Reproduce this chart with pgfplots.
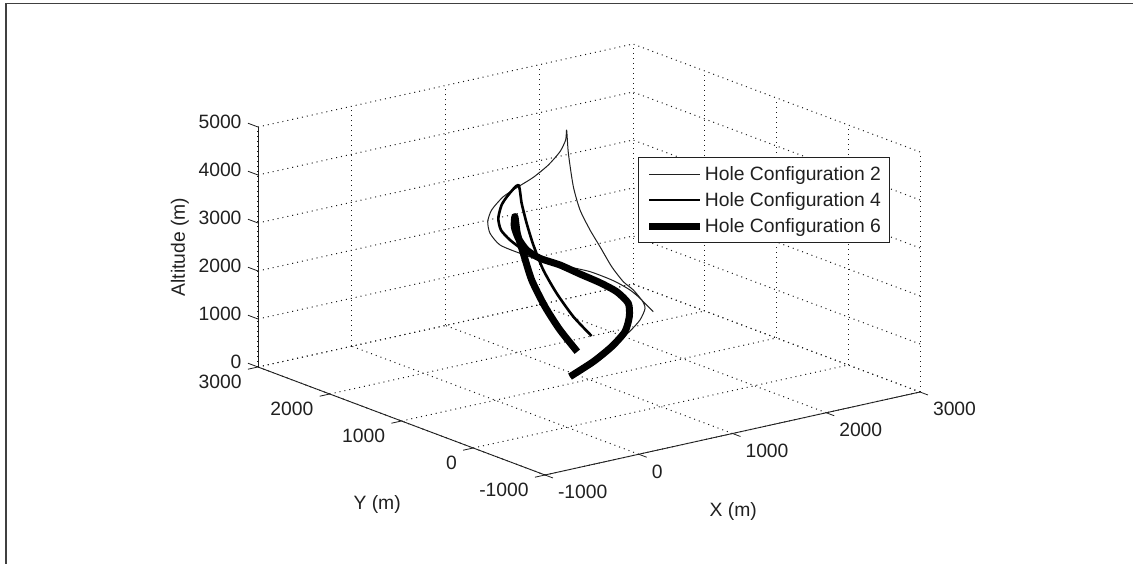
\documentclass[border=0pt]{standalone}
\usepackage{pgfplots}
\pgfplotsset{compat=1.18}
\usepackage{fontspec}
\setmainfont{Liberation Sans}
\definecolor{ink}{HTML}{202020}
\begin{document}
\begin{tikzpicture}[x=1pt,y=1pt]
\path[use as bounding box] (0,0) rectangle (1133,564);
\draw[black!75,line width=1.8pt] (5.8,0) -- (5.8,560.5) -- (1133,560.5);
\begin{axis}[
  at={(567pt,136.75pt)},anchor=origin,
  x={(0.09375pt,0.02075pt)},y={(-0.07175pt,0.027pt)},z={(0pt,0.048pt)},
  xmin=-1000,xmax=3000,ymin=-1000,ymax=3000,zmin=0,zmax=5000,
  xtick={-1000,0,...,3000},ytick={-1000,0,...,3000},ztick={0,1000,...,5000},
  scaled ticks=false,clip=false,
  axis lines*=left,
  axis line style={-,ink,line width=0.9pt},
  grid=major,
  major grid style={black!90,dash pattern=on 1pt off 4pt,line width=1pt},
  tick align=outside,
  major tick length=8pt,
  major tick style={draw=none},
  every tick label/.append style={font=\fontsize{19.3}{22}\selectfont,text=ink},
  /pgf/number format/assume math mode=true,
  /pgf/number format/1000 sep={},
  xticklabel style={anchor=west,xshift=2pt,yshift=-14.5pt},
  yticklabel style={anchor=east,xshift=-5pt,yshift=-13pt},
  zticklabel style={anchor=east,xshift=-5.5pt,yshift=2pt},
  xlabel={X (m)},ylabel={Y (m)},zlabel={Altitude (m)},
  label style={font=\fontsize{19.3}{22}\selectfont,text=ink},
  xlabel style={at={(axis cs:1200,-1000,0)},anchor=center,xshift=-18pt,yshift=-82pt},
  ylabel style={at={(axis cs:-1000,1200,0)},anchor=center,xshift=-10pt,yshift=-89pt},
  zlabel style={at={(axis cs:-1000,3000,2500)},anchor=center,yshift=78pt},
  legend style={at={(axis cs:-8,-1000,6186)},anchor=north west,draw=ink,line width=0.9pt,fill=white,
    font=\fontsize{19.3}{22}\selectfont,text=ink,inner xsep=7.5pt,inner ysep=7.5pt,row sep=8.5pt,
    nodes={inner sep=1pt}},
  legend cell align=left,
  legend image code/.code={\draw[#1] (0pt,0pt) -- (51pt,0pt);},
  unbounded coords=jump,
]
\addplot3[no marks,ink,line width=0.8pt,forget plot] coordinates {
(-1000,-1000,0)(-1000,-1111,0)(nan,nan,nan)(0,-1000,0)(0,-1111,0)(nan,nan,nan)(1000,-1000,0)(1000,-1111,0)(nan,nan,nan)(2000,-1000,0)(2000,-1111,0)(nan,nan,nan)(3000,-1000,0)(3000,-1111,0)(nan,nan,nan)
(-1000,-1000,0)(-1107,-1000,0)(nan,nan,nan)(-1000,0,0)(-1107,0,0)(nan,nan,nan)(-1000,1000,0)(-1107,1000,0)(nan,nan,nan)(-1000,2000,0)(-1107,2000,0)(nan,nan,nan)(-1000,3000,0)(-1107,3000,0)(nan,nan,nan)
(-1000,3000,0)(-1000,3140,0)(nan,nan,nan)(-1000,3000,1000)(-1000,3140,1000)(nan,nan,nan)(-1000,3000,2000)(-1000,3140,2000)(nan,nan,nan)(-1000,3000,3000)(-1000,3140,3000)(nan,nan,nan)(-1000,3000,4000)(-1000,3140,4000)(nan,nan,nan)(-1000,3000,5000)(-1000,3140,5000)};
\addplot3[no marks,color=ink,line width=1pt,line join=round,smooth,tension=0.4] coordinates {
(923,1164,0)(1206,1208,200)(1466,1270,400)(1586,1217,600)(1719,1229,800)(1790,1251,1000)
(1787,1295,1150)(1759,1420,1300)(1685,1556,1450)(1561,1718,1600)(1360,1828,1750)(1176,1913,1900)
(1032,2004,2050)(918,2133,2200)(931,2289,2350)(995,2405,2500)(1101,2489,2650)(1289,2572,2800)
(1440,2559,2950)(1579,2532,3100)(1728,2518,3300)(1873,2545,3500)(1905,2508,3750)(1876,2456,4000)
(1814,2351,3600)(1681,2108,3100)(1652,1977,2700)(1705,1907,2300)(1774,1858,1950)(1881,1835,1500)
(2034,1873,1100)(2210,1963,800)(2411,2087,400)(2643,2250,0)};
\addlegendentry{Hole Configuration 2}
\addplot3[no marks,color=black,line width=2.6pt,line join=round,smooth,tension=0.4] coordinates {
(923,1164,0)(1176,1170,200)(1396,1201,400)(1581,1258,600)(1707,1362,800)(1767,1454,1000)
(1768,1618,1150)(1706,1770,1300)(1592,1899,1450)(1478,2029,1600)(1334,2120,1750)(1243,2232,1900)
(1203,2366,2050)(1192,2478,2200)(1254,2596,2350)(1343,2666,2550)(1395,2641,2750)(1427,2542,3000)
(1422,2490,2650)(1441,2445,2250)(1442,2353,1850)(1448,2222,1400)(1507,2113,950)(1588,1986,500)(1794,2001,0)};
\addlegendentry{Hole Configuration 4}
\addplot3[no marks,color=black,line width=7pt,line join=round,smooth,tension=0.4] coordinates {
(923,1164,0)(1176,1170,200)(1396,1201,400)(1581,1258,600)(1707,1362,800)(1767,1454,1000)
(1768,1618,1150)(1688,1746,1300)(1580,1884,1450)(1478,2029,1600)(1334,2120,1750)(1265,2215,1900)
(1289,2362,2050)(1341,2487,2200)(1353,2493,2400)(1371,2484,2050)(1354,2378,1700)(1320,2217,1250)
(1319,2030,800)(1346,1856,400)(1418,1709,0)};
\addlegendentry{Hole Configuration 6}
\end{axis}
\end{tikzpicture}
\end{document}
